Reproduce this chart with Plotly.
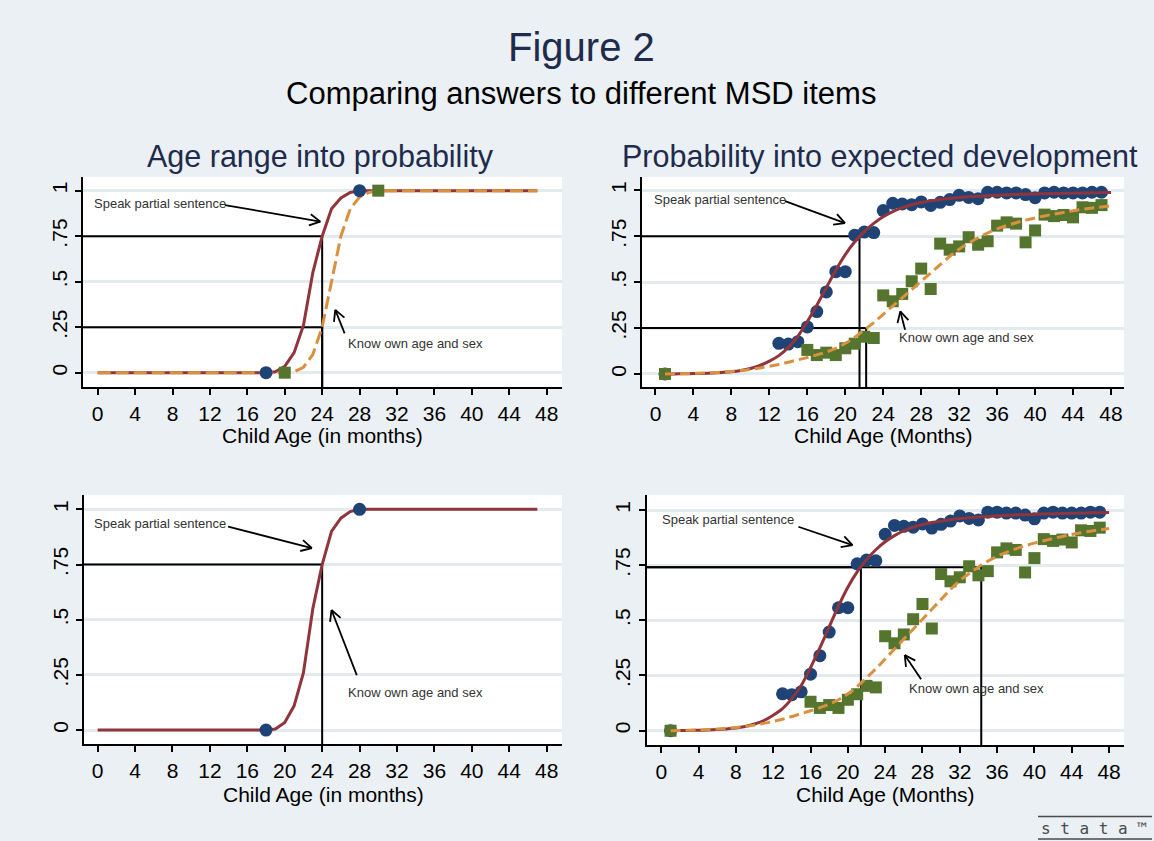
import math
import plotly.graph_objects as go

# ------------------------------------------------------------------ data
# Left panels: age ranges turned into probabilities
range_months = [0, 1, 2, 3, 4, 5, 6, 7, 8, 9, 10, 11, 12, 13, 14, 15, 16, 17, 18, 19,
                20, 21, 22, 23, 24, 25, 26, 27, 28, 29, 30, 31, 32, 33, 34, 35, 36, 37,
                38, 39, 40, 41, 42, 43, 44, 45, 46, 47]
speak_range_prob = [0, 0, 0, 0, 0, 0, 0, 0, 0, 0, 0, 0, 0, 0, 0, 0, 0, 0, 0, 0.005,
                    0.035, 0.11, 0.26, 0.55, 0.75, 0.9, 0.96, 0.99, 1, 1, 1, 1, 1, 1, 1,
                    1, 1, 1, 1, 1, 1, 1, 1, 1, 1, 1, 1, 1]
know_range_prob = [0, 0, 0, 0, 0, 0, 0, 0, 0, 0, 0, 0, 0, 0, 0, 0, 0, 0, 0, 0,
                   0, 0.005, 0.03, 0.1, 0.25, 0.5, 0.75, 0.9, 0.965, 0.99, 1, 1, 1, 1, 1,
                   1, 1, 1, 1, 1, 1, 1, 1, 1, 1, 1, 1, 1]
speak_range_end_months = [18, 28]
speak_range_end_prob = [0, 1]
know_range_end_months = [20, 30]
know_range_end_prob = [0, 1]

# Right panels: observed shares and fitted curves
speak_obs_months = [1, 13, 14, 15, 16, 17, 18, 19, 20, 21, 22, 23, 24, 25, 26, 27, 28, 29,
                    30, 31, 32, 33, 34, 35, 36, 37, 38, 39, 40, 41, 42, 43, 44, 45, 46, 47]
speak_obs_share = [0, 0.167, 0.163, 0.176, 0.256, 0.34, 0.447, 0.557, 0.557, 0.756, 0.773,
                   0.77, 0.89, 0.93, 0.926, 0.922, 0.937, 0.918, 0.935, 0.95, 0.973, 0.962,
                   0.955, 0.99, 0.99, 0.986, 0.986, 0.977, 0.96, 0.986, 0.99, 0.986, 0.986,
                   0.986, 0.99, 0.99]
know_obs_months = [1, 16, 17, 18, 19, 20, 21, 22, 23, 24, 25, 26, 27, 28, 29, 30, 31, 32,
                   33, 34, 35, 36, 37, 38, 39, 40, 41, 42, 43, 44, 45, 46, 47]
know_obs_share = [0, 0.131, 0.103, 0.116, 0.103, 0.14, 0.165, 0.203, 0.196, 0.428, 0.396,
                  0.436, 0.505, 0.574, 0.463, 0.71, 0.677, 0.695, 0.745, 0.704, 0.723,
                  0.808, 0.826, 0.819, 0.717, 0.782, 0.868, 0.86, 0.866, 0.853, 0.908,
                  0.905, 0.92]
fit_months = [1, 2, 3, 4, 5, 6, 7, 8, 9, 10, 11, 12, 13, 14, 15, 16, 17, 18, 19, 20, 21,
              22, 23, 24, 25, 26, 27, 28, 29, 30, 31, 32, 33, 34, 35, 36, 37, 38, 39, 40,
              41, 42, 43, 44, 45, 46, 47, 48]
speak_fit = [0.0, 0.0005, 0.001, 0.002, 0.003, 0.005, 0.008, 0.012, 0.019, 0.03, 0.046,
             0.07, 0.1, 0.145, 0.205, 0.285, 0.375, 0.47, 0.565, 0.65, 0.72, 0.775, 0.82,
             0.856, 0.884, 0.906, 0.922, 0.934, 0.943, 0.95, 0.956, 0.961, 0.965, 0.968,
             0.971, 0.974, 0.976, 0.978, 0.979, 0.981, 0.982, 0.983, 0.984, 0.985, 0.986,
             0.987, 0.988, 0.989]
know_fit = [0.0, 0.001, 0.002, 0.003, 0.005, 0.007, 0.01, 0.014, 0.019, 0.025, 0.033,
            0.042, 0.052, 0.064, 0.077, 0.09, 0.104, 0.12, 0.14, 0.167, 0.2, 0.24, 0.28,
            0.325, 0.37, 0.415, 0.46, 0.505, 0.55, 0.595, 0.64, 0.68, 0.712, 0.742, 0.768,
            0.79, 0.808, 0.824, 0.838, 0.85, 0.861, 0.871, 0.88, 0.889, 0.897, 0.904,
            0.91, 0.916]

# Reference marks (month, probability)
tl_ref_points = [(24, 0.75), (24, 0.25)]
tr_ref_points = [(21.5, 0.75), (22.2, 0.25)]
bl_ref_points = [(24, 0.75)]
br_ref_points = [(34.3, 0.74), (21.4, 0.74)]

x_ticks = [0, 4, 8, 12, 16, 20, 24, 28, 32, 36, 40, 44, 48]
y_ticks = [0, 0.25, 0.5, 0.75, 1]
y_tick_labels = ["0", ".25", ".5", ".75", "1"]

speak_label = "Speak partial sentence"
know_label = "Know own age and sex"

# label anchor (left, middle) and arrows (tail -> head) in data units per panel
labels = {
    "tl": dict(speak=(-0.64, 0.93), know=(26.55, 0.163),
               speak_arrow=((13.6, 0.921), (23.8, 0.83)),
               know_arrow=((26.4, 0.216), (25.4, 0.345))),
    "tr": dict(speak=(-0.4, 0.949), know=(25.4, 0.2),
               speak_arrow=((13.65, 0.942), (19.97, 0.822)),
               know_arrow=((26.3, 0.241), (25.8, 0.341))),
    "bl": dict(speak=(-0.64, 0.938), know=(26.55, 0.172),
               speak_arrow=((13.95, 0.922), (22.9, 0.824)),
               know_arrow=((27.7, 0.249), (25.0, 0.544))),
    "br": dict(speak=(-0.13, 0.955), know=(26.3, 0.189),
               speak_arrow=((14.7, 0.924), (20.5, 0.841)),
               know_arrow=((27.85, 0.233), (26.1, 0.343))),
}

# ------------------------------------------------------------------ style
W, H = 1154, 841
BG = "#eaf0f3"
GRID = "#e3ebef"
NAVY = "#1f4375"
MAROON = "#90353b"
GREEN = "#55752f"
ORANGE = "#da913f"
TITLE = "#1e2b4d"
FONT = "Liberation Sans, Arial, Helvetica, sans-serif"

panels = {
    "tl": dict(xa="x", ya="y", box=(83, 177, 562, 387), xr=(-1.57, 49.64),
               yr=(-0.0786, 1.075), xtitle="Child Age (in months)", ty=436),
    "tr": dict(xa="x2", ya="y2", box=(642, 177, 1124, 387), xr=(-1.42, 49.37),
               yr=(-0.071, 1.073), xtitle="Child Age (Months)", ty=436),
    "bl": dict(xa="x3", ya="y3", box=(84, 495, 562, 744), xr=(-1.46, 49.64),
               yr=(-0.063, 1.065), xtitle="Child Age (in months)", ty=794),
    "br": dict(xa="x4", ya="y4", box=(646.5, 495, 1124, 745), xr=(-1.58, 49.6),
               yr=(-0.065, 1.068), xtitle="Child Age (Months)", ty=794),
}

fig = go.Figure()


def add_line(p, x, y, color, width, dash="solid", shape="linear"):
    fig.add_trace(go.Scatter(x=x, y=y, mode="lines", xaxis=p["xa"], yaxis=p["ya"],
                             line=dict(color=color, width=width, dash=dash, shape=shape),
                             hoverinfo="skip"))


def add_markers(p, x, y, color, symbol, size):
    fig.add_trace(go.Scatter(x=x, y=y, mode="markers", xaxis=p["xa"], yaxis=p["ya"],
                             marker=dict(color=color, symbol=symbol, size=size,
                                         line=dict(width=0)),
                             hoverinfo="skip"))


def add_refs(p, points):
    x0 = p["xr"][0]
    y0 = p["yr"][0]
    for mx, pr in points:
        add_line(p, [x0, mx, mx], [pr, pr, y0], "black", 2)


def add_arrow(p, tail, head):
    bx0, by0, bx1, by1 = p["box"]
    sx = (bx1 - bx0) / (p["xr"][1] - p["xr"][0])
    sy = (by1 - by0) / (p["yr"][1] - p["yr"][0])
    dx = (head[0] - tail[0]) * sx
    dy = (head[1] - tail[1]) * sy
    ln = math.hypot(dx, dy)
    ux, uy = -dx / ln, -dy / ln
    barb = 12
    xs = [tail[0], head[0], None]
    ys = [tail[1], head[1], None]
    for ang in (math.radians(28), -math.radians(28)):
        rx = ux * math.cos(ang) - uy * math.sin(ang)
        ry = ux * math.sin(ang) + uy * math.cos(ang)
        xs += [head[0], head[0] + barb * rx / sx, None]
        ys += [head[1], head[1] + barb * ry / sy, None]
    fig.add_trace(go.Scatter(x=xs, y=ys, mode="lines", xaxis=p["xa"], yaxis=p["ya"],
                             line=dict(color="black", width=1.8), hoverinfo="skip"))


def add_labels(key):
    p = panels[key]
    lab = labels[key]
    for txt, pos in ((speak_label, lab["speak"]), (know_label, lab["know"])):
        fig.add_annotation(x=pos[0], y=pos[1], xref=p["xa"], yref=p["ya"], text=txt,
                           showarrow=False, xanchor="left", yanchor="middle",
                           font=dict(family=FONT, size=13, color="#333333"))
    add_arrow(p, *lab["speak_arrow"])
    add_arrow(p, *lab["know_arrow"])


def paper_text(x, y, text, size, color, family=FONT):
    fig.add_annotation(x=x / W, y=1 - y / H, xref="paper", yref="paper", text=text,
                       showarrow=False, xanchor="center", yanchor="middle",
                       font=dict(family=family, size=size, color=color))


# top-left
p = panels["tl"]
add_refs(p, tl_ref_points)
add_line(p, range_months, speak_range_prob, MAROON, 3)
add_line(p, range_months, know_range_prob, ORANGE, 3, dash="13px,5px")
add_markers(p, speak_range_end_months, speak_range_end_prob, NAVY, "circle", 13)
add_markers(p, know_range_end_months, know_range_end_prob, GREEN, "square", 12)
add_labels("tl")

# top-right
p = panels["tr"]
add_refs(p, tr_ref_points)
add_markers(p, speak_obs_months, speak_obs_share, NAVY, "circle", 13)
add_markers(p, know_obs_months, know_obs_share, GREEN, "square", 12)
add_line(p, fit_months, speak_fit, MAROON, 3, shape="spline")
add_line(p, fit_months, know_fit, ORANGE, 3, dash="10px,5px", shape="spline")
add_labels("tr")

# bottom-left
p = panels["bl"]
add_refs(p, bl_ref_points)
add_line(p, range_months, speak_range_prob, MAROON, 3)
add_markers(p, speak_range_end_months, speak_range_end_prob, NAVY, "circle", 13)
add_labels("bl")

# bottom-right
p = panels["br"]
add_refs(p, br_ref_points)
add_markers(p, speak_obs_months, speak_obs_share, NAVY, "circle", 13)
add_markers(p, know_obs_months, know_obs_share, GREEN, "square", 12)
add_line(p, fit_months, speak_fit, MAROON, 3, shape="spline")
add_line(p, fit_months, know_fit, ORANGE, 3, dash="10px,5px", shape="spline")
add_labels("br")

# ------------------------------------------------------------------ axes
layout_axes = {}
for key, p in panels.items():
    bx0, by0, bx1, by1 = p["box"]
    xk = "xaxis" + p["xa"][1:]
    yk = "yaxis" + p["ya"][1:]
    layout_axes[xk] = dict(
        domain=[bx0 / W, bx1 / W], range=list(p["xr"]), anchor=p["ya"],
        tickmode="array", tickvals=x_ticks, ticktext=[str(t) for t in x_ticks],
        showgrid=False, zeroline=False, showline=True, linecolor="black", linewidth=1.5,
        ticks="outside", ticklen=6, tickwidth=1.5, tickcolor="black",
        tickfont=dict(family=FONT, size=21, color="black"), ticklabelstandoff=1,
        fixedrange=True)
    layout_axes[yk] = dict(
        domain=[1 - by1 / H, 1 - by0 / H], range=list(p["yr"]), anchor=p["xa"],
        tickmode="array", tickvals=y_ticks, ticktext=y_tick_labels, tickangle=-90,
        showgrid=True, gridcolor=GRID, gridwidth=2.5, zeroline=False, showline=True,
        linecolor="black", linewidth=1.5, ticks="outside", ticklen=6, tickwidth=1.5,
        tickcolor="black", tickfont=dict(family=FONT, size=21, color="black"),
        fixedrange=True)
    paper_text((bx0 + bx1) / 2, p["ty"], p["xtitle"], 21, "black")

# titles
paper_text(581, 47, "Figure 2", 40, TITLE)
paper_text(581, 93, "Comparing answers to different MSD items", 31, "black")
paper_text(320, 157, "Age range into probability", 30.5, TITLE)
paper_text(880, 157, "Probability into expected development", 30.5, TITLE)

# Stata logo
paper_text(1094, 828, "s t a t a ™", 16, "#4a4a4a", family="DejaVu Sans Mono, monospace")
for ly in (816.5, 839):
    fig.add_shape(type="line", xref="paper", yref="paper", x0=1038 / W, x1=1152 / W,
                  y0=1 - ly / H, y1=1 - ly / H, line=dict(color="#4a4a4a", width=1.5))

fig.update_layout(width=W, height=H, margin=dict(l=0, r=0, t=0, b=0, pad=0),
                  paper_bgcolor=BG, plot_bgcolor="white", showlegend=False,
                  **layout_axes)

fig.write_html("out.html", config={"displayModeBar": False},
               post_script="document.body.style.margin='0';")
